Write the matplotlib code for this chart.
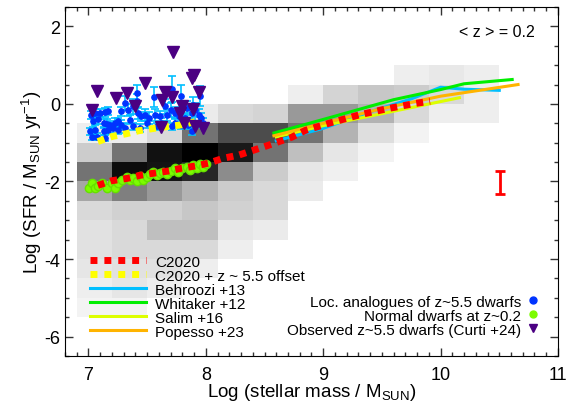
import numpy as np
import matplotlib.pyplot as plt
from matplotlib.lines import Line2D
from matplotlib.ticker import MultipleLocator

plt.rcParams['font.family'] = ['Liberation Sans', 'DejaVu Sans']
plt.rcParams['mathtext.default'] = 'regular'
plt.rcParams['axes.unicode_minus'] = False

# background 2D density of the local sample (0 = empty, 1 = densest)
mass_edges = np.arange(6.9, 10.51, 0.3)
sfr_edges = np.arange(-5.5, 1.01, 0.5)
# rows from top (0.5..1.0) to bottom (-5.5..-5.0), columns along mass
grey = np.array([
    [1, 1, 1, 1, 1, 1, 1, 1, 1, .93, .91, .93],
    [1, 1, 1, 1, 1, 1, .93, .83, .78, .80, .85, .93],
    [1, 1, 1, .92, .85, .83, .60, .60, .70, .85, .93, .93],
    [.93, .93, .85, .45, .30, .30, .45, .70, .87, .95, 1, 1],
    [.80, .45, .07, .00, .10, .45, .75, .90, .95, 1, 1, 1],
    [.45, .05, .08, .15, .55, .80, .90, .94, 1, 1, 1, 1],
    [.65, .50, .60, .70, .80, .85, .92, 1, 1, 1, 1, 1],
    [.85, .82, .82, .78, .82, .85, 1, 1, 1, 1, 1, 1],
    [.88, .85, .75, .75, .90, .92, 1, 1, 1, 1, 1, 1],
    [.88, .85, .85, .85, .93, 1, 1, 1, 1, 1, 1, 1],
    [.90, .88, .88, .93, 1, 1, 1, 1, 1, 1, 1, 1],
    [.93, .90, .93, 1, 1, 1, 1, 1, 1, 1, 1, 1],
    [.95, .95, 1, 1, 1, 1, 1, 1, 1, 1, 1, 1],
])
density = 1.0 - grey[::-1]

# C2020 relation and its z~5.5 offset version
c2020_x = [7.08, 7.2, 7.33, 7.44, 7.57, 7.68, 7.79, 7.91, 8.02, 8.15, 8.28, 8.5,
           8.73, 8.85, 9.07, 9.31, 9.55, 9.78, 9.91]
c2020_y = [-2.10, -1.98, -1.92, -1.84, -1.78, -1.73, -1.66, -1.60, -1.53, -1.40, -1.32, -1.10,
           -0.86, -0.68, -0.48, -0.28, -0.12, 0.01, 0.07]
off_x = [7.08, 7.2, 7.32, 7.43, 7.56, 7.68, 7.79, 7.92]
off_y = [-0.97, -0.84, -0.77, -0.69, -0.63, -0.58, -0.54, -0.45]

# literature main sequences
behroozi_x = [8.6, 9.0, 9.4, 9.75, 10.0, 10.2, 10.5]
behroozi_y = [-0.95, -0.63, -0.20, 0.13, 0.43, 0.38, 0.35]
whitaker_x = [8.58, 9.0, 9.6, 10.0, 10.2, 10.61]
whitaker_y = [-0.75, -0.40, 0.11, 0.37, 0.52, 0.63]
salim_x = [8.6, 9.0, 9.5, 10.16]
salim_y = [-0.85, -0.56, -0.25, 0.16]
popesso_x = [8.58, 9.0, 9.5, 10.0, 10.66]
popesso_y = [-0.82, -0.50, -0.12, 0.20, 0.50]

# local analogues of z~5.5 dwarfs
analog_x = [7.02, 7.06, 7.10, 7.14, 7.17, 7.04, 7.08, 7.13, 7.16, 7.18, 7.23, 7.01, 7.06, 7.13,
            7.17, 7.21, 7.25, 7.03, 7.07, 7.14, 7.25, 7.28,
            7.31, 7.34, 7.28, 7.38, 7.41, 7.42, 7.45, 7.48, 7.50, 7.35, 7.38, 7.44, 7.31, 7.52,
            7.57, 7.56, 7.61, 7.58, 7.62, 7.41,
            7.65, 7.67, 7.70, 7.71, 7.74, 7.77, 7.79, 7.82, 7.85, 7.88, 7.89, 7.91, 7.94, 7.96,
            7.98, 7.95, 7.74, 7.79, 7.64, 7.71, 7.84, 7.88]
analog_y = [-0.28, -0.24, -0.24, -0.22, -0.19, -0.45, -0.39, -0.49, -0.51, -0.54, -0.49, -0.71,
            -0.67, -0.71, -0.67, -0.62, -0.67, -0.86, -0.84, -0.88, -0.45, -0.54,
            0.03, -0.15, -0.19, -0.06, 0.07, -0.24, -0.32, -0.28, -0.49, -0.41, -0.58, -0.62,
            -0.62, -0.36, -0.28, 0.18, -0.32, -0.58, -0.49, 0.28,
            -0.06, -0.28, -0.15, 0.39, -0.24, -0.32, 0.20, -0.36, -0.54, -0.24, -0.02, -0.15,
            -0.28, -0.36, -0.49, 0.20, -0.49, -0.54, -0.54, -0.58, -0.10, -0.71]
analog_err = [0.10, 0.12, 0.10, 0.12, 0.10, 0.15, 0.12, 0.10, 0.12, 0.10, 0.12, 0.10, 0.12, 0.10,
              0.10, 0.12, 0.10, 0.08, 0.10, 0.08, 0.10, 0.12,
              0.18, 0.15, 0.12, 0.20, 0.18, 0.15, 0.12, 0.15, 0.12, 0.12, 0.10, 0.10, 0.12, 0.15,
              0.15, 0.25, 0.15, 0.10, 0.12, 0.20,
              0.20, 0.15, 0.18, 0.33, 0.15, 0.15, 0.30, 0.12, 0.10, 0.15, 0.20, 0.18, 0.15, 0.12,
              0.12, 0.25, 0.12, 0.10, 0.10, 0.10, 0.18, 0.10]

# normal dwarfs at z~0.2
normal_x = [7.005, 7.027, 7.056, 7.084, 7.113, 7.155, 7.198, 7.226, 7.255, 7.289, 7.326, 7.354,
            7.383, 7.411, 7.439, 7.468, 7.496, 7.525, 7.553, 7.581, 7.610, 7.638, 7.667, 7.704,
            7.738, 7.766, 7.800, 7.837, 7.866, 7.894, 7.922, 7.951, 7.979, 8.0]
normal_y = [-2.16, -2.05, -2.18, -2.12, -2.04, -2.16, -2.04, -2.16, -2.05, -1.97, -1.88, -1.97,
            -1.90, -1.99, -1.86, -1.95, -1.88, -1.81, -1.75, -1.84, -1.78, -1.75, -1.81, -1.73,
            -1.66, -1.75, -1.66, -1.62, -1.71, -1.58, -1.66, -1.56, -1.62, -1.55]

# observed z~5.5 dwarfs (Curti +24), upper limits
curti_x = [7.075, 7.235, 7.33, 7.48, 7.72, 7.88, 7.90, 7.94, 7.65, 7.63, 7.71, 7.03, 7.40,
           7.80, 7.78, 7.81, 7.91, 7.98, 7.62, 7.89]
curti_y = [0.33, 0.16, 0.29, 0.53, 1.35, 0.68, 0.74, 0.30, 0.30, 0.09, 0.18, -0.15, -0.06,
           -0.06, -0.23, -0.49, -0.58, -0.62, -0.60, -0.13]

# typical error
err_x = [10.51]
err_y = [-2.03]
err_size = [0.30]

fig = plt.figure(figsize=(5.69, 4.14), dpi=100)
ax = fig.add_axes([0.1142, 0.1377, 0.8664, 0.843])

dens = np.ma.masked_less_equal(density, 0)
ax.pcolormesh(mass_edges, sfr_edges, dens, cmap='gray_r', vmin=0, vmax=1, zorder=1)

ax.plot(behroozi_x, behroozi_y, color='#00BFFF', lw=2.2, zorder=3)
ax.plot(whitaker_x, whitaker_y, color='#00EE00', lw=2.2, zorder=3)
ax.plot(salim_x, salim_y, color='#DDFF00', lw=2.2, zorder=3)
ax.plot(popesso_x, popesso_y, color='#FFB400', lw=2.2, zorder=3)

ax.plot(normal_x, normal_y, 'o', color='#7CFC00', ms=6, mec='#66E000', zorder=4)

ax.errorbar(analog_x, analog_y, yerr=analog_err, fmt='o', color='#0033FF', ms=3.8,
            ecolor='#00BFFF', elinewidth=1.2, capsize=3, capthick=1.2, zorder=4)

ax.plot(c2020_x, c2020_y, color='red', lw=5, ls=(0, (1, 0.9)), zorder=6)
ax.plot(off_x, off_y, color='yellow', lw=5, ls=(0, (1, 0.9)), zorder=5)

ax.plot(curti_x, curti_y, 'v', color='#4B0082', ms=8, zorder=6)

ax.errorbar(err_x, err_y, yerr=err_size, fmt='none', ecolor='red', elinewidth=2,
            capsize=3.5, capthick=2, zorder=6)

ax.text(0.953, 0.93, '< z > = 0.2', transform=ax.transAxes, ha='right', va='center',
        fontsize=11.5)

ax.set_xlim(6.8, 11.0)
ax.set_ylim(-6.5, 2.5)
ax.xaxis.set_major_locator(MultipleLocator(1))
ax.xaxis.set_minor_locator(MultipleLocator(0.1))
ax.yaxis.set_major_locator(MultipleLocator(2))
ax.yaxis.set_minor_locator(MultipleLocator(0.5))
ax.tick_params(which='both', direction='in', top=True, right=True, labelsize=13, color='#333333')
ax.tick_params(which='major', length=6, width=1)
ax.tick_params(which='minor', length=3, width=1)
ax.tick_params(axis='x', pad=7)
ax.set_xlabel('Log (stellar mass / M$_{SUN}$)', fontsize=13.5, labelpad=-1)
ax.set_ylabel('Log (SFR / M$_{SUN}$ yr$^{-1}$)', fontsize=13.5, labelpad=0)

left_handles = [
    Line2D([], [], color='red', lw=5, ls=(0, (1, 1))),
    Line2D([], [], color='yellow', lw=5, ls=(0, (1, 1))),
    Line2D([], [], color='#00BFFF', lw=2.2),
    Line2D([], [], color='#00EE00', lw=2.2),
    Line2D([], [], color='#DDFF00', lw=2.2),
    Line2D([], [], color='#FFB400', lw=2.2),
]
left_labels = ['C2020', 'C2020 + z ~ 5.5 offset', 'Behroozi +13', 'Whitaker +12',
               'Salim +16', 'Popesso +23']
leg1 = ax.legend(left_handles, left_labels, loc='lower left', bbox_to_anchor=(0.05, 0.05),
                 frameon=False, fontsize=11, handlelength=3.7, handletextpad=0.6,
                 labelspacing=0.0, borderpad=0, borderaxespad=0)
ax.add_artist(leg1)

right_handles = [
    Line2D([], [], ls='none', marker='o', color='#0033FF', ms=5),
    Line2D([], [], ls='none', marker='o', color='#7CFC00', ms=5),
    Line2D([], [], ls='none', marker='v', color='#4B0082', ms=6),
]
right_labels = ['Loc. analogues of z~5.5 dwarfs', 'Normal dwarfs at z~0.2',
                'Observed z~5.5 dwarfs (Curti +24)']
ax.legend(right_handles, right_labels, loc='lower right', bbox_to_anchor=(0.962, 0.055),
          frameon=False, fontsize=11, markerfirst=False, handlelength=0.8,
          handletextpad=0.4, labelspacing=0.0, borderpad=0, borderaxespad=0)

fig.savefig('out.png', dpi=100)
